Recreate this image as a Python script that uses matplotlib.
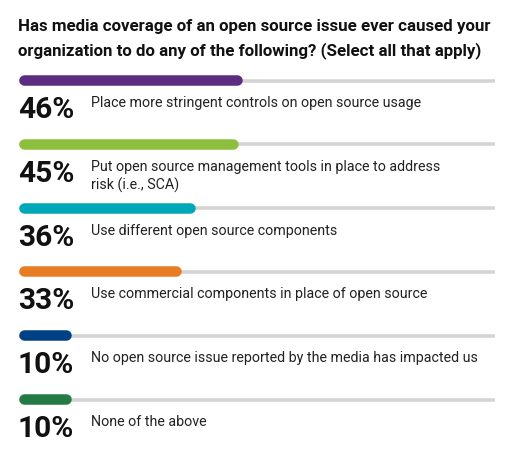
import matplotlib.pyplot as plt

W, H = 531, 450

title_lines = [
    "Has media coverage of an open source issue ever caused your",
    "organization to do any of the following? (Select all that apply)",
]
labels = [
    "Place more stringent controls on open source usage",
    "Put open source management tools in place to address\nrisk (i.e., SCA)",
    "Use different open source components",
    "Use commercial components in place of open source",
    "No open source issue reported by the media has impacted us",
    "None of the above",
]
values = [46, 45, 36, 33, 10, 10]
colors = ["#5b2c7f", "#8dbf3f", "#00a8b7", "#e87c23", "#004085", "#237a45"]

fig = plt.figure(figsize=(W / 100, H / 100), dpi=100)
fig.patch.set_facecolor("white")

# x axis in percent, placed so 0..100 spans the grey track; y in pixels
ax = fig.add_axes([19 / W, 0, (495 - 19) / W, 1])
ax.set_xlim(0, 100)
ax.set_ylim(H, 0)
ax.axis("off")


def px(x, y):
    return x / W, 1 - y / H


for k, line in enumerate(title_lines):
    fig.text(*px(18, 31 + k * 24), line, fontsize=12.2, fontweight="bold",
             family="Roboto", color="#111111", va="baseline")

pt = 72 / 100            # points per pixel
bar_px = 10.5
r = bar_px / 2 / 4.76    # cap radius in percent units
row0, step = 80, 63.8
for i, (lab, v, c) in enumerate(zip(labels, values, colors)):
    y = row0 + i * step
    ax.plot([0, 100], [y + 0.5, y + 0.5], color="#d3d3d3", lw=3.5 * pt,
            solid_capstyle="butt", zorder=1)
    ax.plot([r, v + 1 - r], [y, y], color=c, lw=bar_px * pt,
            solid_capstyle="round", zorder=2)
    fig.text(*px(18, y + 38), f"{v}%", fontsize=21.5, fontweight="bold",
             family="Roboto", color="#111111", va="baseline")
    for j, part in enumerate(lab.split("\n")):
        fig.text(*px(91, y + 27 + j * 19), part, fontsize=10.3,
                 family="Roboto", color="#222222", va="baseline")

fig.savefig("out.png", dpi=100)
